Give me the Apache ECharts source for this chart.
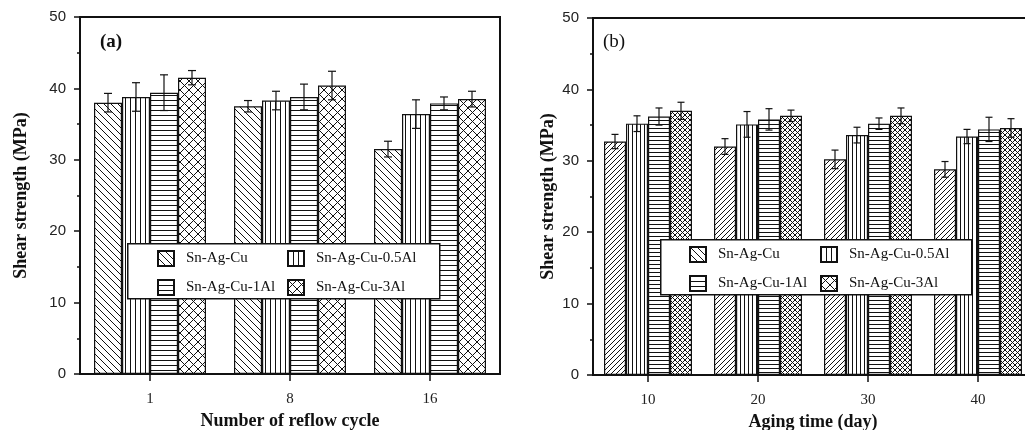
<!DOCTYPE html>
<html>
<head>
<meta charset="utf-8">
<title>Shear strength</title>
<script src="https://cdn.jsdelivr.net/npm/echarts@6.0.0/dist/echarts.min.js"></script>
<style>
  html, body { margin: 0; padding: 0; background: #fff; }
  #chart { width: 1025px; height: 430px; }
</style>
</head>
<body>
<div id="chart"></div>
<script>
  // data
  var reflowCycles = ['1', '8', '16'];
  var agingDays = ['10', '20', '30', '40'];
  var alloys = ['Sn-Ag-Cu', 'Sn-Ag-Cu-0.5Al', 'Sn-Ag-Cu-1Al', 'Sn-Ag-Cu-3Al'];

  // (a) one row per alloy, one value per reflow cycle
  var reflowMean = [
    [38.0, 37.5, 31.5],
    [38.8, 38.3, 36.4],
    [39.4, 38.8, 37.9],
    [41.5, 40.4, 38.5]
  ];
  var reflowErr = [
    [1.3, 0.8, 1.1],
    [2.0, 1.3, 2.0],
    [2.5, 1.8, 0.9],
    [1.0, 2.0, 1.1]
  ];

  // (b) one row per alloy, one value per aging time
  var agingMean = [
    [32.7, 32.0, 30.2, 28.8],
    [35.2, 35.1, 33.6, 33.4],
    [36.2, 35.8, 35.2, 34.4],
    [37.0, 36.3, 36.3, 34.6]
  ];
  var agingErr = [
    [1.0, 1.1, 1.3, 1.1],
    [1.1, 1.8, 1.1, 1.0],
    [1.2, 1.5, 0.8, 1.7],
    [1.2, 0.8, 1.1, 1.3]
  ];

  var yTicks = [0, 10, 20, 30, 40, 50];

  // hatch fill tiles: b = \\\, f = ///, v = |||, h = ===, x = cross
  function hatch(kind, s) {
    var c = document.createElement('canvas');
    c.width = s;
    c.height = s;
    var g = c.getContext('2d');
    g.fillStyle = '#fff';
    g.fillRect(0, 0, s, s);
    g.strokeStyle = '#111';
    g.lineWidth = 1;
    g.beginPath();
    var k;
    if (kind === 'v') { g.moveTo(0.5, 0); g.lineTo(0.5, s); }
    if (kind === 'h') { g.moveTo(0, 0.5); g.lineTo(s, 0.5); }
    if (kind === 'b' || kind === 'x') {
      for (k = -1; k <= 1; k++) { g.moveTo(k * s, 0); g.lineTo(k * s + s, s); }
    }
    if (kind === 'f' || kind === 'x') {
      for (k = -1; k <= 1; k++) { g.moveTo(k * s, s); g.lineTo(k * s + s, 0); }
    }
    g.stroke();
    return { image: c, repeat: 'repeat' };
  }

  var fillsA = [hatch('b', 7), hatch('v', 5), hatch('h', 5), hatch('x', 9)];
  var fillsB = [hatch('f', 5), hatch('v', 4), hatch('h', 4), hatch('x', 5)];

  function errRender(idx, n, cap) {
    return function (params, api) {
      var c = api.value(0), v = api.value(1), e = api.value(2);
      var band = api.size([1, 0])[0];
      var bw = band * 0.8 / n;
      var x = api.coord([c, v])[0] - band * 0.4 + bw * (idx + 0.5);
      var hi = api.coord([c, v + e])[1];
      var lo = api.coord([c, v - e])[1];
      var st = { stroke: '#111', lineWidth: 1.2 };
      return {
        type: 'group',
        children: [
          { type: 'line', shape: { x1: x, y1: hi, x2: x, y2: lo }, style: st },
          { type: 'line', shape: { x1: x - cap / 2, y1: hi, x2: x + cap / 2, y2: hi }, style: st },
          { type: 'line', shape: { x1: x - cap / 2, y1: lo, x2: x + cap / 2, y2: lo }, style: st }
        ]
      };
    };
  }

  var serifFont = '"Liberation Serif", "DejaVu Serif", serif';
  var sansFont = '"Liberation Sans", Arial, sans-serif';

  function yAxisFor(gridIndex, gap) {
    return {
      type: 'value',
      gridIndex: gridIndex,
      min: yTicks[0],
      max: yTicks[yTicks.length - 1],
      interval: yTicks[1] - yTicks[0],
      name: 'Shear strength (MPa)',
      nameLocation: 'middle',
      nameGap: gap,
      nameTextStyle: { fontFamily: serifFont, fontWeight: 'bold', fontSize: 18, color: '#111' },
      axisLine: { show: true, lineStyle: { color: '#111', width: 2 } },
      axisTick: { show: true, inside: false, length: 6, lineStyle: { color: '#111', width: 1.5 } },
      minorTick: { show: true, splitNumber: 2, length: 3, lineStyle: { color: '#111', width: 1.5 } },
      axisLabel: { fontFamily: sansFont, fontSize: 15, color: '#222', margin: 14 },
      splitLine: { show: false }
    };
  }

  function xAxisFor(gridIndex, cats, title) {
    return {
      type: 'category',
      gridIndex: gridIndex,
      data: cats,
      name: title,
      nameLocation: 'middle',
      nameGap: 30,
      nameTextStyle: { fontFamily: serifFont, fontWeight: 'bold', fontSize: 18, color: '#111' },
      axisLine: { show: true, lineStyle: { color: '#111', width: 2 } },
      axisTick: { show: true, alignWithLabel: true, length: 7, lineStyle: { color: '#111', width: 1.5 } },
      axisLabel: { fontFamily: serifFont, fontSize: 15, color: '#222', margin: 18 },
      splitLine: { show: false }
    };
  }

  var series = [];
  alloys.forEach(function (name, i) {
    series.push({
      type: 'bar',
      name: name,
      xAxisIndex: 0,
      yAxisIndex: 0,
      data: reflowMean[i],
      barGap: '0%',
      barCategoryGap: '20%',
      itemStyle: { color: fillsA[i], borderColor: '#111', borderWidth: 1.2 },
      z: 2
    });
  });
  alloys.forEach(function (name, i) {
    series.push({
      type: 'bar',
      name: name,
      xAxisIndex: 1,
      yAxisIndex: 1,
      data: agingMean[i],
      barGap: '0%',
      barCategoryGap: '20%',
      itemStyle: { color: fillsB[i], borderColor: '#111', borderWidth: 1.2 },
      z: 2
    });
  });
  alloys.forEach(function (name, i) {
    series.push({
      type: 'custom',
      xAxisIndex: 0,
      yAxisIndex: 0,
      renderItem: errRender(i, alloys.length, 8),
      encode: { x: 0, y: 1 },
      data: reflowMean[i].map(function (v, j) { return [j, v, reflowErr[i][j]]; }),
      z: 3
    });
    series.push({
      type: 'custom',
      xAxisIndex: 1,
      yAxisIndex: 1,
      renderItem: errRender(i, alloys.length, 7),
      encode: { x: 0, y: 1 },
      data: agingMean[i].map(function (v, j) { return [j, v, agingErr[i][j]]; }),
      z: 3
    });
  });

  function legendCol(names, left, top) {
    return {
      data: names,
      orient: 'vertical',
      left: left,
      top: top,
      padding: 0,
      itemWidth: 16,
      itemHeight: 15,
      itemGap: 12,
      icon: 'rect',
      selectedMode: false,
      textStyle: { fontFamily: serifFont, fontSize: 15, color: '#111', padding: [0, 0, 0, 7] },
      z: 6
    };
  }

  var chart = echarts.init(document.getElementById('chart'), null, { renderer: 'canvas' });
  var option = {
    backgroundColor: '#fff',
    animation: false,
    grid: [
      { left: 80, top: 17, width: 420, height: 357, outerBoundsMode: 'none', containLabel: false, show: true, borderColor: '#111', borderWidth: 2, backgroundColor: 'transparent' },
      { left: 593, top: 18, width: 440, height: 357, outerBoundsMode: 'none', containLabel: false, show: true, borderColor: '#111', borderWidth: 2, backgroundColor: 'transparent' }
    ],
    xAxis: [
      xAxisFor(0, reflowCycles, 'Number of reflow cycle'),
      xAxisFor(1, agingDays, 'Aging time (day)')
    ],
    yAxis: [yAxisFor(0, 50), yAxisFor(1, 36)],
    legend: [
      legendCol([alloys[0], alloys[2]], 157, 250),
      legendCol([alloys[1], alloys[3]], 287, 250),
      legendCol([alloys[0], alloys[2]], 689, 246),
      legendCol([alloys[1], alloys[3]], 820, 246)
    ],
    graphic: [
      { type: 'rect', left: 127, top: 243, shape: { width: 312, height: 55 }, style: { fill: '#fff', stroke: '#111', lineWidth: 1.5 }, z: 5 },
      { type: 'rect', left: 660, top: 239, shape: { width: 311, height: 55 }, style: { fill: '#fff', stroke: '#111', lineWidth: 1.5 }, z: 5 },
      { type: 'text', left: 100, top: 33, style: { text: '(a)', font: 'bold 19px ' + serifFont, fill: '#111' }, z: 6 },
      { type: 'text', left: 603, top: 33, style: { text: '(b)', font: '19px ' + serifFont, fill: '#111' }, z: 6 }
    ],
    series: series
  };
  chart.setOption(option);
</script>
</body>
</html>
